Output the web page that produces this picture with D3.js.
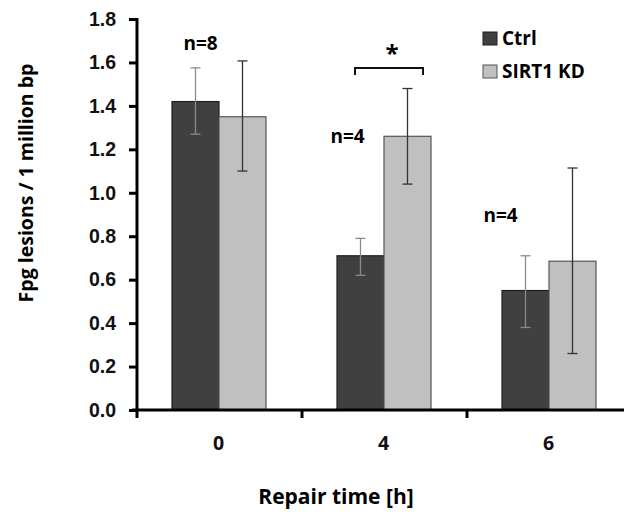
<!DOCTYPE html>
<html>
<head>
<meta charset="utf-8">
<script src="https://cdn.jsdelivr.net/npm/d3@7"></script>
<style>
  body { margin: 0; background: #fff; }
  svg { display: block; font-family: 'Open Sans', 'Lato', sans-serif; font-weight: bold; }
  .axis path, .axis line { stroke: #000; stroke-width: 3; }
  .axis text { font-size: 19.5px; font-weight: bold; fill: #111; }
</style>
</head>
<body>
<div id="chart"></div>
<script>
const categories = ['0', '4', '6'];
const series = ['Ctrl', 'SIRT1 KD'];
const ctrl = [1.42, 0.71, 0.55];
const ctrlLow = [1.27, 0.62, 0.38];
const ctrlHigh = [1.575, 0.79, 0.71];
const sirt = [1.35, 1.26, 0.685];
const sirtLow = [1.10, 1.04, 0.26];
const sirtHigh = [1.607, 1.48, 1.114];
const counts = ['n=8', 'n=4', 'n=4'];
const countY = [1.69, 1.26, 0.90];
const yTicks = [0, 0.2, 0.4, 0.6, 0.8, 1.0, 1.2, 1.4, 1.6, 1.8];

const colors = {'Ctrl': '#404040', 'SIRT1 KD': '#c0c0c0'};
const strokes = {'Ctrl': '#1e1e1e', 'SIRT1 KD': '#555'};
const errColors = {'Ctrl': '#8a8a8a', 'SIRT1 KD': '#333'};

const W = 624, H = 512;
const margin = {top: 19, left: 137, bottom: 102};
const plotH = H - margin.top - margin.bottom;

const svg = d3.select('#chart').append('svg')
  .attr('width', W).attr('height', H);

const sx = d3.scaleBand().domain(categories).range([margin.left, margin.left + 495]);
const sInner = d3.scaleBand().domain(series).range([35, 129]);
const sy = d3.scaleLinear().domain([0, 1.8]).range([margin.top + plotH, margin.top]);

const rows = [];
categories.forEach((c, i) => {
  rows.push({cat: c, s: 'Ctrl', v: ctrl[i], lo: ctrlLow[i], hi: ctrlHigh[i]});
  rows.push({cat: c, s: 'SIRT1 KD', v: sirt[i], lo: sirtLow[i], hi: sirtHigh[i]});
});

// bars
svg.append('g').selectAll('rect')
  .data(rows).enter().append('rect')
  .attr('x', d => sx(d.cat) + sInner(d.s))
  .attr('y', d => sy(d.v))
  .attr('width', sInner.bandwidth())
  .attr('height', d => sy(0) - sy(d.v))
  .attr('fill', d => colors[d.s])
  .attr('stroke', d => strokes[d.s])
  .attr('stroke-width', 1.2);

// error bars
const err = svg.append('g').selectAll('g')
  .data(rows).enter().append('g')
  .attr('stroke', d => errColors[d.s])
  .attr('stroke-width', 1.3);
const cx = d => sx(d.cat) + sInner(d.s) + sInner.bandwidth() / 2;
err.append('line')
  .attr('x1', cx).attr('x2', cx)
  .attr('y1', d => sy(d.lo)).attr('y2', d => sy(d.hi));
err.append('line')
  .attr('x1', d => cx(d) - 5).attr('x2', d => cx(d) + 5)
  .attr('y1', d => sy(d.hi)).attr('y2', d => sy(d.hi));
err.append('line')
  .attr('x1', d => cx(d) - 5).attr('x2', d => cx(d) + 5)
  .attr('y1', d => sy(d.lo)).attr('y2', d => sy(d.lo));

// y axis
const yAxis = svg.append('g')
  .attr('class', 'axis')
  .attr('transform', `translate(${margin.left},0)`)
  .call(d3.axisLeft(sy).tickValues(yTicks).tickFormat(d3.format('.1f')).tickSize(8).tickSizeOuter(0).tickPadding(13));
yAxis.select('.domain').attr('d', `M0,${sy(1.8) - 1}V${sy(0) + 1}`);

// x axis
const xAxis = svg.append('g')
  .attr('class', 'axis')
  .attr('transform', `translate(0,${sy(0)})`);
xAxis.append('line')
  .attr('x1', margin.left - 5).attr('x2', W)
  .attr('y1', 0).attr('y2', 0);
xAxis.selectAll('.tick')
  .data(categories).enter().append('line')
  .attr('x1', d => sx(d)).attr('x2', d => sx(d))
  .attr('y1', 0).attr('y2', 8);
xAxis.selectAll('text')
  .data(categories).enter().append('text')
  .attr('x', d => sx(d) + sx.bandwidth() / 2 - 1)
  .attr('y', 40)
  .attr('text-anchor', 'middle')
  .text(d => d);

// axis titles
svg.append('text')
  .attr('transform', `translate(33,${183}) rotate(-90)`)
  .attr('text-anchor', 'middle')
  .style('font-size', '19.5px')
  .text('Fpg lesions / 1 million bp');

svg.append('text')
  .attr('x', 336).attr('y', 504)
  .attr('text-anchor', 'middle')
  .style('font-size', '21px')
  .text('Repair time [h]');

// n labels
const nOffsets = [-19, -37, -49];
svg.append('g').selectAll('text')
  .data(categories).enter().append('text')
  .attr('x', (d, i) => sx(d) + sx.bandwidth() / 2 + nOffsets[i])
  .attr('y', (d, i) => sy(countY[i]) + 7)
  .attr('text-anchor', 'middle')
  .style('font-size', '19px')
  .text((d, i) => counts[i]);

// significance bracket at 4h
const bx0 = sx('4') + 53, bx1 = sx('4') + 121, by = sy(1.575);
svg.append('path')
  .attr('d', `M${bx0},${by + 7}V${by}H${bx1}V${by + 7}`)
  .attr('fill', 'none').attr('stroke', '#111').attr('stroke-width', 2);
svg.append('text')
  .attr('x', (bx0 + bx1) / 2 + 3).attr('y', by - 6)
  .attr('text-anchor', 'middle')
  .style('font-size', '24px')
  .text('*');

// legend
const legend = svg.append('g').attr('transform', 'translate(483,32)');
const li = legend.selectAll('g').data(series).enter().append('g')
  .attr('transform', (d, i) => `translate(0,${i * 33})`);
li.append('rect')
  .attr('width', 14).attr('height', 13)
  .attr('fill', d => colors[d])
  .attr('stroke', d => strokes[d]);
li.append('text')
  .attr('x', 19).attr('y', 13)
  .style('font-size', '19px')
  .text(d => d);
</script>
</body>
</html>
